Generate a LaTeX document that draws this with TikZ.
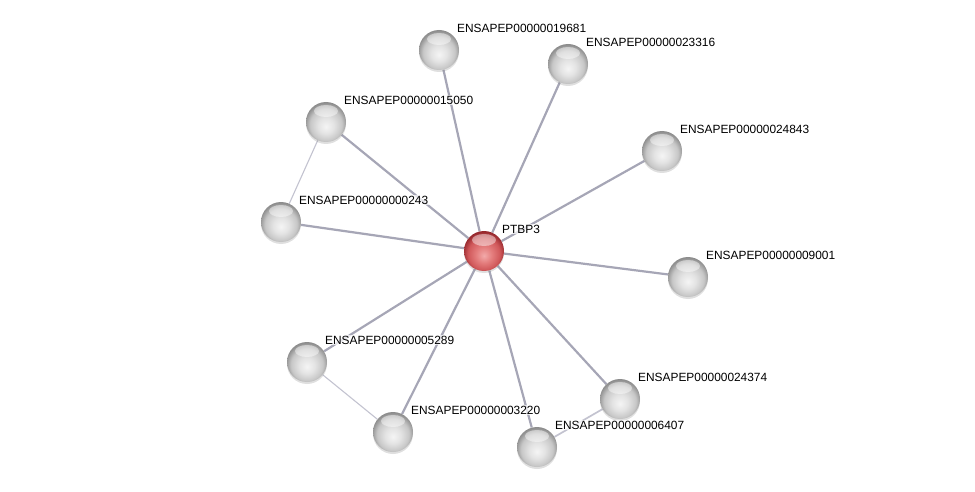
\documentclass[tikz,border=0pt]{standalone}
\usepackage{fontspec}
\setmainfont{Liberation Sans}
\usepackage{tikz}
\definecolor{ee}{RGB}{166, 166, 182}
\definecolor{ll}{RGB}{195, 195, 208}
\usetikzlibrary{backgrounds}
\usetikzlibrary{shadows}
\pgfdeclareradialshading{glassgray}{\pgfpoint{0bp}{-6bp}}{color(0bp)=(white!96!black);
	color(10bp)=(white!89!black); color(20bp)=(white!78!black); color(27bp)=(white!55!black); color(50bp)=(white!55!black)}
\pgfdeclareradialshading{glassred}{\pgfpoint{0bp}{-6bp}}{color(0bp)=(rgb,255:red,242;green,170;blue,170);
	color(10bp)=(rgb,255:red,228;green,125;blue,125); color(20bp)=(rgb,255:red,208;green,88;blue,90); color(27bp)=(rgb,255:red,150;green,40;blue,45); color(50bp)=(rgb,255:red,150;green,40;blue,45)}
\def\radius{20pt}
\tikzset{prot/.style={circle,minimum size=2*\radius,inner sep=0pt,shading=glassgray,
		drop shadow={opacity=0.25,shadow xshift=0pt,shadow yshift=-2pt},
		path picture={\fill[white,fill opacity=0.45] ([yshift=11pt]path picture bounding box.center) ellipse (12pt and 6pt);}},
	lbl/.style={anchor=west,inner sep=1pt,fill=white,fill opacity=0.7,text opacity=1,font=\fontsize{11.9}{13}\selectfont}}
\newcommand{\protnode}[4]{\node[prot,#4] (#3) at (#1,#2) {};
	\node[lbl] at ([xshift=17pt,yshift=22pt]#3.center) {#3}; }

\begin{document}
\begin{tikzpicture}[x=1pt,y=-1pt]
\useasboundingbox (0,0) rectangle (975,492);
\protnode{484}{251}{PTBP3}{shading=glassred}
\protnode{439}{50}{ENSAPEP00000019681}{}
\protnode{568}{64}{ENSAPEP00000023316}{}
\protnode{326}{122}{ENSAPEP00000015050}{}
\protnode{662}{151}{ENSAPEP00000024843}{}
\protnode{281}{222}{ENSAPEP00000000243}{}
\protnode{688}{277}{ENSAPEP00000009001}{}
\protnode{307}{362}{ENSAPEP00000005289}{}
\protnode{620}{399}{ENSAPEP00000024374}{}
\protnode{393}{432}{ENSAPEP00000003220}{}
\protnode{537}{447}{ENSAPEP00000006407}{}

\begin{scope}[on background layer]
\draw[line width=2.2pt,color=ee] (PTBP3) -- (ENSAPEP00000019681);
\draw[line width=2.2pt,color=ee] (PTBP3) -- (ENSAPEP00000023316);
\draw[line width=2.2pt,color=ee] (PTBP3) -- (ENSAPEP00000015050);
\draw[line width=2.2pt,color=ee] (PTBP3) -- (ENSAPEP00000024843);
\draw[line width=2.2pt,color=ee] (PTBP3) -- (ENSAPEP00000000243);
\draw[line width=2.2pt,color=ee] (PTBP3) -- (ENSAPEP00000009001);
\draw[line width=2.2pt,color=ee] (PTBP3) -- (ENSAPEP00000005289);
\draw[line width=2.2pt,color=ee] (PTBP3) -- (ENSAPEP00000024374);
\draw[line width=2.2pt,color=ee] (PTBP3) -- (ENSAPEP00000003220);
\draw[line width=2.2pt,color=ee] (PTBP3) -- (ENSAPEP00000006407);
\draw[line width=1.1pt,color=ll] (ENSAPEP00000015050) -- (ENSAPEP00000000243);
\draw[line width=1.1pt,color=ll] (ENSAPEP00000005289) -- (ENSAPEP00000003220);
\draw[line width=1.7pt,color=ll] (ENSAPEP00000024374) -- (ENSAPEP00000006407);
\end{scope}
\end{tikzpicture}
\end{document}
